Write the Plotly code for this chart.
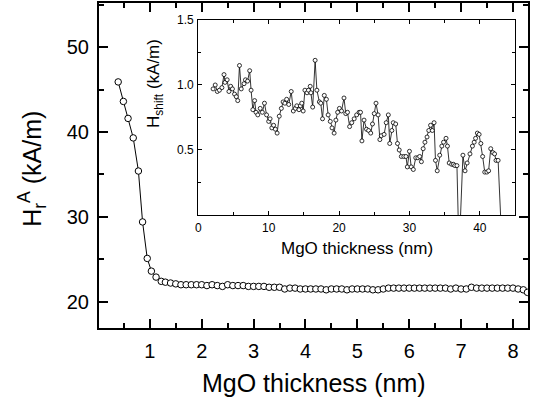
import plotly.graph_objects as go

# ── main curve: H_r^A vs MgO thickness ───────────────────────────────────────
thick = [0.39, 0.49, 0.58, 0.68, 0.78, 0.86, 0.95, 1.03, 1.12, 1.22,
         1.3, 1.4, 1.5, 1.6, 1.7, 1.8, 1.9, 2.0, 2.1, 2.2, 2.3, 2.4, 2.5,
         2.6, 2.7, 2.8, 2.9, 3.0, 3.1, 3.2, 3.3, 3.4, 3.5, 3.6, 3.7, 3.8,
         3.9, 4.0, 4.1, 4.2, 4.3, 4.4, 4.5, 4.6, 4.7, 4.8, 4.9, 5.0, 5.1,
         5.2, 5.3, 5.4, 5.5, 5.6, 5.7, 5.8, 5.9, 6.0, 6.1, 6.2, 6.3, 6.4,
         6.5, 6.6, 6.7, 6.8, 6.9, 7.0, 7.1, 7.2, 7.3, 7.4, 7.5, 7.6, 7.7,
         7.8, 7.9, 8.0, 8.1, 8.2, 8.28]
hr = [45.9, 43.6, 41.6, 39.3, 35.4, 29.4, 25.1, 23.6, 22.9, 22.4,
      22.3, 22.2, 22.1, 22.0, 22.0, 22.0, 22.0, 22.0, 21.9, 22.0, 21.9, 21.8, 22.0,
      21.9, 21.9, 21.9, 21.8, 21.8, 21.8, 21.8, 21.7, 21.7, 21.7, 21.5, 21.6, 21.6,
      21.5, 21.5, 21.5, 21.5, 21.5, 21.4, 21.5, 21.5, 21.5, 21.4, 21.5, 21.5, 21.5,
      21.5, 21.4, 21.4, 21.5, 21.6, 21.6, 21.6, 21.6, 21.6, 21.6, 21.6, 21.6, 21.6,
      21.6, 21.6, 21.6, 21.5, 21.6, 21.5, 21.5, 21.7, 21.6, 21.6, 21.6, 21.6, 21.6,
      21.6, 21.6, 21.6, 21.5, 21.4, 21.1]

# ── inset: H_shift vs MgO thickness ──────────────────────────────────────────
ins_t = [2.1, 2.4, 2.7, 3.0, 3.35, 3.65, 3.8, 4.1, 4.35, 4.6, 4.85, 5.15, 5.4,
         5.6, 5.85, 6.1, 6.5, 6.7, 7.0, 7.3, 7.5, 7.75, 8.0, 8.2, 8.45, 8.8,
         9.1, 9.4, 9.7, 10.0, 10.2, 10.45, 10.7, 10.95, 11.2, 11.5, 11.8, 12.05,
         12.3, 12.55, 12.85, 13.2, 13.5, 13.8, 14.0, 14.3, 14.5, 14.7, 14.9,
         15.15, 15.45, 15.65, 15.9, 16.0, 16.25, 16.6, 16.85, 17.2, 17.4, 17.65,
         17.9, 18.2, 18.45, 18.75, 19.0, 19.3, 19.55, 19.8, 20.05, 20.35, 20.7,
         20.95, 21.2, 21.5, 21.8, 22.15, 22.5, 22.85, 23.05, 23.25, 23.55, 23.9,
         24.2, 24.5, 24.75, 25.0, 25.25, 25.55, 25.8, 26.0, 26.4, 26.7, 27.0,
         27.2, 27.5, 27.7, 28.05, 28.3, 28.55, 28.85, 29.2, 29.5, 29.7, 30.0,
         30.25, 30.55, 30.9, 31.2, 31.45, 31.7, 31.95, 32.2, 32.5, 32.75, 33.0,
         33.25, 33.5, 33.7, 33.95, 34.3, 34.6, 34.85, 35.2, 35.4, 35.65, 36.0,
         36.25, 36.45, 36.75, 37.05, 37.6, 37.9, 38.2, 38.6, 38.95, 39.2, 39.4,
         39.65, 39.9, 40.15, 40.4, 40.7, 41.0, 41.25, 41.55, 41.85, 42.1, 42.3,
         42.6, 43.2]
hshift = [0.97, 1.00, 0.95, 0.96, 0.98, 1.08, 1.02, 1.04, 0.95, 0.99, 0.97, 0.93, 0.91,
          0.88, 1.15, 0.97, 1.01, 1.04, 1.03, 1.11, 0.96, 0.81, 0.88, 0.79, 0.77, 0.82,
          0.79, 0.86, 0.77, 0.72, 0.74, 0.67, 0.69, 0.66, 0.63, 0.76, 0.82, 0.87,
          0.86, 0.89, 0.85, 0.95, 0.80, 0.82, 0.84, 0.81, 0.84, 0.86, 0.80,
          0.96, 0.94, 0.96, 0.99, 0.94, 0.83, 1.19, 0.96, 0.87, 0.86, 0.74,
          0.92, 0.89, 0.77, 0.72, 0.67, 0.63, 0.73, 0.79, 0.82, 0.80, 0.90,
          0.78, 0.79, 0.68, 0.71, 0.74, 0.77, 0.79, 0.79, 0.57, 0.73, 0.66,
          0.65, 0.63, 0.70, 0.78, 0.86, 0.77, 0.58, 0.61, 0.62, 0.71, 0.77,
          0.55, 0.65, 0.71, 0.70, 0.55, 0.50, 0.45, 0.45, 0.45, 0.37, 0.49,
          0.37, 0.35, 0.44, 0.44, 0.45, 0.41, 0.51, 0.56, 0.60, 0.65, 0.69,
          0.65, 0.71, 0.42, 0.34, 0.46, 0.53, 0.56, 0.59, 0.53, 0.40, 0.39,
          0.39, 0.38, 0.38, -0.3, 0.46, 0.34, 0.40, 0.47, 0.53, 0.56, 0.59,
          0.63, 0.62, 0.55, 0.45, 0.33, 0.33, 0.34, 0.51, 0.48, 0.47, 0.42,
          0.42, -0.3]

main_ticks = [1, 2, 3, 4, 5, 6, 7, 8]
ins_xticks = [0, 10, 20, 30, 40]
ins_yticks = [0.5, 1.0, 1.5]
ins_ylabels = ["0.5", "1.0", "1.5"]

FONT = "Liberation Sans, Arial, sans-serif"

fig = go.Figure()
fig.add_trace(go.Scatter(
    x=thick, y=hr, mode="lines+markers",
    line=dict(color="black", width=1),
    marker=dict(symbol="circle", size=6.5, color="white",
                line=dict(color="black", width=1)),
    showlegend=False))
fig.add_trace(go.Scatter(
    x=ins_t, y=hshift, mode="lines+markers", xaxis="x2", yaxis="y2",
    line=dict(color="black", width=0.8),
    marker=dict(symbol="circle", size=4, color="white",
                line=dict(color="black", width=0.8)),
    showlegend=False))

frame = dict(showline=True, linecolor="black", mirror="ticks", showgrid=False,
             zeroline=False, ticks="inside", tickcolor="black", automargin=False)

fig.update_layout(
    width=534, height=407,
    margin=dict(l=99, r=6, t=3, b=79),
    paper_bgcolor="white", plot_bgcolor="white",
    font=dict(family=FONT, color="black"),
    xaxis=dict(**frame, range=[0.02, 8.29], tickvals=main_ticks,
               linewidth=2, ticklen=9, tickwidth=1.5,
               minor=dict(ticks="inside", ticklen=5, dtick=0.5, tick0=0,
                          tickcolor="black", tickwidth=1.5),
               tickfont=dict(size=20), ticklabelstandoff=4),
    yaxis=dict(**frame, range=[16.9, 55.2], tickvals=[20, 30, 40, 50],
               linewidth=2, ticklen=9, tickwidth=1.5,
               minor=dict(ticks="inside", ticklen=5, dtick=5, tick0=0,
                          tickcolor="black", tickwidth=1.5),
               tickfont=dict(size=20), ticklabelstandoff=4),
    xaxis2=dict(**frame, domain=[0.2315, 0.9697], anchor="y2",
                range=[0, 45], tickvals=ins_xticks,
                linewidth=1.3, ticklen=4, tickwidth=1,
                minor=dict(ticks="inside", ticklen=2.5, dtick=5, tick0=0,
                           tickcolor="black", tickwidth=1),
                tickfont=dict(size=12), ticklabelstandoff=1),
    yaxis2=dict(**frame, domain=[0.3477, 0.9477], anchor="x2",
                range=[0, 1.5], tickvals=ins_yticks, ticktext=ins_ylabels,
                linewidth=1.3, ticklen=4, tickwidth=1,
                minor=dict(ticks="inside", ticklen=2.5, dtick=0.25, tick0=0,
                           tickcolor="black", tickwidth=1),
                tickfont=dict(size=12), ticklabelstandoff=1),
    annotations=[
        dict(text="MgO thickness (nm)", xref="paper", yref="paper",
             x=0.5, y=-0.169, xanchor="center", yanchor="middle",
             showarrow=False, font=dict(size=25)),
        dict(text="H<sub>r</sub><sup>A</sup> (kA/m)", xref="paper", yref="paper",
             x=-0.156, y=0.49, xanchor="center", yanchor="middle",
             textangle=-90, showarrow=False, font=dict(size=25)),
        dict(text="MgO thickness (nm)", xref="paper", yref="paper",
             x=0.601, y=0.246, xanchor="center", yanchor="middle",
             showarrow=False, font=dict(size=17)),
        dict(text="H<sub>shift</sub> (kA/m)", xref="paper", yref="paper",
             x=0.1305, y=0.754, xanchor="center", yanchor="middle",
             textangle=-90, showarrow=False, font=dict(size=17)),
    ],
)

# page body has a default 8px margin; drop it so the figure fills the window
fig.write_html("out.html", config={"displayModeBar": False},
               post_script="document.body.style.margin = '0';")
